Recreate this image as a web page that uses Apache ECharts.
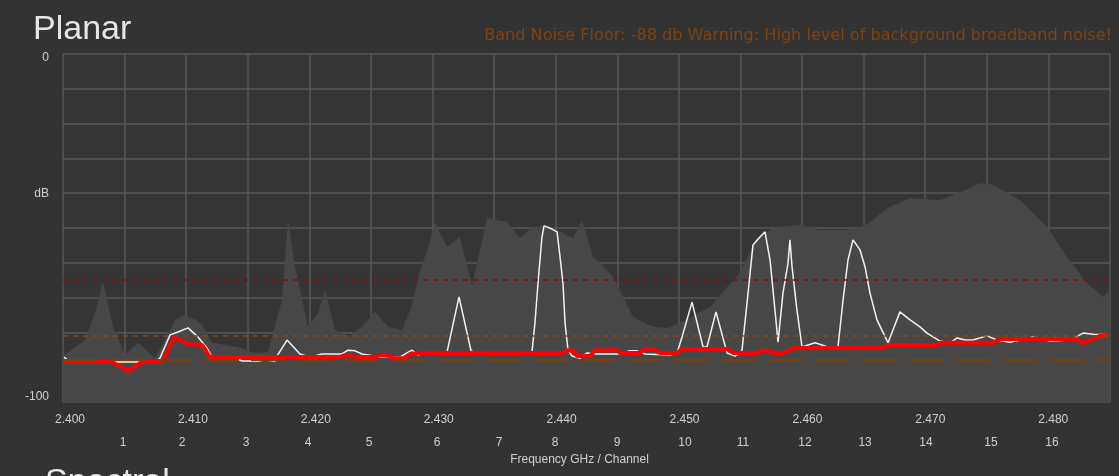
<!DOCTYPE html>
<html>
<head>
<meta charset="utf-8">
<script src="https://cdn.jsdelivr.net/npm/echarts@6/dist/echarts.min.js"></script>
<style>
  html, body { margin: 0; padding: 0; background: #333333; }
  #chart { width: 1119px; height: 476px; }
</style>
</head>
<body>
<div id="chart"></div>
<script>
// Spectrum view of the 2.4 GHz band (frequency in MHz, level in dB)

// Frequency tick labels (MHz) and Wi-Fi channel labels with their positions
const freqTicks = [2400, 2410, 2420, 2430, 2440, 2450, 2460, 2470, 2480];
const channelLabels = ['1','2','3','4','5','6','7','8','9','10','11','12','13','14','15','16'];
const channelPos = [2404.31, 2409.11, 2414.32, 2419.37, 2424.33, 2429.86, 2434.91, 2439.46,
                    2444.51, 2450.04, 2454.76, 2459.80, 2464.69, 2469.65, 2474.94, 2479.90];

// Peak-hold envelope (grey area)
const peakFreq = [2399.43, 2399.76, 2401.22, 2402.03, 2402.69, 2403.50, 2404.48, 2405.53, 2406.92,
  2407.73, 2408.54, 2409.10, 2409.60, 2410.20, 2410.74, 2411.55, 2414.00, 2415.05, 2416.11, 2417.25, 2417.74, 2418.31,
  2419.37, 2420.18, 2420.75, 2421.56, 2422.62, 2423.76, 2424.82, 2425.87, 2427.01, 2427.83, 2428.48,
  2429.13, 2429.70, 2430.68, 2431.73, 2432.71, 2433.36, 2433.93, 2435.56, 2436.61, 2437.67, 2438.81,
  2439.87, 2440.93, 2441.66, 2442.55, 2443.12, 2444.18, 2445.81, 2447.44, 2448.58, 2449.63, 2452.07,
  2454.52, 2455.90, 2457.53, 2459.40, 2461.03, 2463.22, 2464.85, 2466.48, 2468.35, 2470.79, 2472.42,
  2474.04, 2475.10, 2477.30, 2479.50, 2481.12, 2482.75, 2484.05, 2484.62];
const peakDb = [-86.5, -85.9, -82.2, -74.4, -65.5, -78.4, -86.5, -83.0, -87.4,
  -82.2, -76.5, -75.3, -75.6, -76.3, -77.8, -83.0, -84.5, -85.9, -85.6, -70.7, -47.7, -61.2,
  -78.4, -74.4, -67.8, -79.3, -81.3, -78.4, -74.1, -78.4, -79.3, -72.1, -62.1,
  -55.7, -48.3, -55.5, -52.6, -66.4, -56.3, -47.1, -48.3, -52.9, -49.7, -49.1,
  -51.1, -52.9, -47.7, -58.3, -60.1, -64.1, -75.6, -78.4, -78.7, -77.3, -72.7,
  -62.9, -52.6, -49.7, -49.1, -50.6, -50.6, -49.1, -44.3, -41.4, -42.0, -39.7,
  -37.1, -37.6, -42.0, -49.7, -58.3, -65.8, -69.8, -67.8];

// Live sweep (white trace)
const liveFreq = [2399.51, 2400.00, 2404.23, 2406.92, 2407.32, 2408.14, 2408.79, 2409.60, 2410.41,
  2411.15, 2411.55, 2413.43, 2414.00, 2415.30, 2415.87, 2416.68, 2416.84, 2417.66, 2418.71, 2419.53,
  2420.50, 2422.13, 2422.62, 2423.19, 2423.76, 2425.22, 2426.85, 2427.42, 2427.83, 2428.32, 2428.89,
  2430.51, 2430.68, 2431.65, 2432.63, 2433.36, 2437.42, 2437.59, 2437.83, 2438.08, 2438.40, 2438.57,
  2439.22, 2439.63, 2439.87, 2440.11, 2440.28, 2440.52, 2440.85, 2441.50, 2442.07, 2442.88, 2444.59,
  2445.57, 2446.14, 2446.79, 2448.82, 2449.39, 2449.80, 2450.61, 2451.51, 2451.83, 2452.56, 2453.46,
  2454.11, 2454.52, 2454.68, 2455.17, 2455.57, 2456.14, 2456.55, 2456.96, 2457.36, 2457.61, 2458.01,
  2458.42, 2458.58, 2458.75, 2459.15, 2459.56, 2460.05, 2460.62, 2461.19, 2461.84, 2462.49, 2462.90,
  2463.30, 2463.71, 2464.28, 2464.69, 2465.09, 2465.66, 2466.56, 2467.53, 2468.35, 2469.16, 2469.73,
  2470.79, 2471.61, 2472.18, 2472.83, 2473.47, 2474.61, 2475.43, 2476.48, 2478.36, 2479.74, 2481.37,
  2482.43, 2483.24, 2484.46];
const liveDb = [-87.1, -88.5, -88.5, -88.5, -87.4, -80.7, -79.9, -78.7, -81.3,
  -84.5, -87.1, -87.4, -88.2, -88.2, -87.9, -88.2, -86.8, -82.2, -86.2, -87.1,
  -86.2, -86.2, -85.1, -85.3, -86.2, -87.1, -87.1, -85.9, -85.1, -86.5, -85.6,
  -85.9, -85.6, -69.8, -85.3, -86.2, -86.2, -85.6, -77.3, -65.8, -52.6, -49.4,
  -50.3, -51.1, -58.3, -65.8, -77.3, -85.1, -86.8, -87.4, -85.9, -86.2, -86.2,
  -85.3, -85.3, -86.2, -86.5, -85.9, -81.3, -71.3, -84.2, -84.2, -74.1, -85.9,
  -86.8, -85.9, -85.1, -68.7, -54.9, -52.6, -51.1, -59.2, -73.6, -82.8, -68.7,
  -60.1, -53.4, -61.2, -73.6, -84.2, -83.6, -83.0, -83.6, -84.5, -84.2, -70.7,
  -59.2, -53.4, -56.3, -61.2, -68.7, -76.4, -83.0, -74.1, -76.4, -78.4, -80.2,
  -82.5, -83.0, -81.6, -82.2, -82.2, -81.0, -82.2, -82.8, -81.3, -82.5, -82.2,
  -80.2, -80.5, -80.7];

// Running average (red trace)
const avgFreq = [2399.51, 2403.42, 2404.72, 2405.86, 2407.49, 2408.46, 2409.52, 2410.74, 2411.39,
  2421.97, 2422.38, 2423.35, 2424.82, 2425.22, 2426.04, 2426.28, 2427.26, 2427.66, 2428.48, 2440.11,
  2440.36, 2440.93, 2441.25, 2442.31, 2442.72, 2444.51, 2444.75, 2446.38, 2446.79, 2447.44, 2448.01,
  2449.39, 2449.80, 2453.46, 2453.99, 2455.94, 2456.18, 2456.96, 2457.20, 2458.01, 2458.58, 2458.83,
  2466.15, 2466.56, 2470.54, 2470.79, 2475.10, 2475.67, 2481.77, 2482.43, 2483.00, 2483.40, 2483.81,
  2484.46];
const avgDb = [-88.5, -88.5, -91.1, -88.5, -88.5, -81.3, -83.3, -83.6, -87.1,
  -87.1, -86.5, -87.1, -87.1, -86.5, -86.8, -87.4, -87.4, -86.2, -85.9, -85.9,
  -85.1, -85.3, -86.8, -86.8, -85.1, -85.1, -85.9, -85.9, -84.8, -84.8, -85.9,
  -85.9, -84.8, -84.8, -85.9, -85.9, -85.3, -85.3, -85.9, -85.9, -85.1, -84.5,
  -84.5, -83.6, -83.6, -83.0, -83.0, -81.9, -81.9, -83.0, -82.2, -81.6, -81.0,
  -81.0];

// Reference levels (dB)
const alertLevel = -65;
const warnLevel = -81;
const noiseFloor = -88;

const freqMin = 2399.43;
const freqMax = 2484.62;

const pairs = (xs, ys) => xs.map((x, i) => [x, ys[i]]);
const labelFont = 'Liberation Sans, Arial, sans-serif';
const tickColor = '#cfcfcf';

const chart = echarts.init(document.getElementById('chart'), null, { renderer: 'canvas' });

chart.setOption({
  backgroundColor: '#333333',
  animation: false,
  title: [
    {
      text: 'Planar', left: 28, top: 8,
      textStyle: { color: '#e6e6e6', fontSize: 34, fontWeight: 'normal', fontFamily: labelFont }
    },
    {
      text: 'Band Noise Floor: ' + noiseFloor + ' db Warning: High level of background broadband noise!',
      right: 2, top: 23,
      textStyle: { color: '#7d4511', fontSize: 16.1, fontWeight: 'normal', fontFamily: 'DejaVu Sans, Verdana, sans-serif' }
    },
    {
      text: 'Spectral', left: 40, top: 461,
      textStyle: { color: '#e6e6e6', fontSize: 34, fontWeight: 'normal', fontFamily: labelFont }
    }
  ],
  grid: {
    left: 63, right: 9, top: 54, bottom: 74,
    show: true, backgroundColor: '#363636', borderWidth: 0
  },
  xAxis: [
    {
      // frequency axis carrying the data
      type: 'value', min: freqMin, max: freqMax, position: 'bottom',
      axisLine: { show: false }, axisTick: { show: false }, splitLine: { show: false },
      axisLabel: {
        customValues: freqTicks, color: tickColor, fontSize: 12, fontFamily: labelFont, margin: 12,
        formatter: v => (v / 1000).toFixed(3)
      }
    },
    {
      // channel numbers under the frequency labels
      type: 'value', min: freqMin, max: freqMax, position: 'bottom', offset: 23,
      axisLine: { show: false }, axisTick: { show: false }, splitLine: { show: false },
      axisLabel: {
        customValues: channelPos, color: tickColor, fontSize: 12, fontFamily: labelFont, margin: 12,
        formatter: v => channelLabels[channelPos.indexOf(v)] || ''
      },
      name: 'Frequency GHz / Channel', nameLocation: 'middle', nameGap: 28,
      nameTextStyle: { color: tickColor, fontSize: 12, fontFamily: labelFont, padding: [0, 14, 0, 0] }
    },
    {
      // evenly spaced vertical grid
      type: 'value', min: 0, max: 17, interval: 1, position: 'bottom',
      axisLine: { show: false }, axisTick: { show: false }, axisLabel: { show: false },
      splitLine: { show: true, lineStyle: { color: '#575757', width: 1.5 } }
    }
  ],
  yAxis: {
    type: 'value', min: -100, max: 0, interval: 10,
    axisLine: { show: false }, axisTick: { show: false },
    splitLine: { show: true, lineStyle: { color: '#575757', width: 1.5 } },
    axisLabel: {
      color: tickColor, fontSize: 12, fontFamily: labelFont, margin: 14,
      formatter: v => (v === 0 ? '{top|0}' : v === -40 ? 'dB' : v === -100 ? '{bottom|-100}' : ''),
      rich: {
        top: { color: tickColor, fontSize: 12, fontFamily: labelFont, padding: [8, 0, 0, 0] },
        bottom: { color: tickColor, fontSize: 12, fontFamily: labelFont, padding: [0, 0, 10, 0] }
      }
    }
  },
  series: [
    {
      name: 'Peak hold', type: 'line', xAxisIndex: 0, data: pairs(peakFreq, peakDb),
      symbol: 'none', lineStyle: { width: 0 },
      areaStyle: { color: '#474747', origin: 'start', opacity: 1 },
      z: 1,
      markLine: {
        silent: true, symbol: 'none', label: { show: false },
        data: [
          { yAxis: alertLevel, lineStyle: { color: '#a00000', width: 1.5, type: [5, 5] } },
          { yAxis: warnLevel, lineStyle: { color: '#8a4a12', width: 1.5, type: [5, 5] } },
          { yAxis: noiseFloor, lineStyle: { color: '#7a400e', width: 2, type: [35, 12] } }
        ]
      }
    },
    {
      name: 'Live', type: 'line', xAxisIndex: 0, data: pairs(liveFreq, liveDb),
      symbol: 'none', lineStyle: { color: '#f2f2f2', width: 1.5 }, z: 3
    },
    {
      name: 'Average', type: 'line', xAxisIndex: 0, data: pairs(avgFreq, avgDb),
      symbol: 'none', lineStyle: { color: '#ff0000', width: 4 }, z: 4
    }
  ]
});
</script>
</body>
</html>
